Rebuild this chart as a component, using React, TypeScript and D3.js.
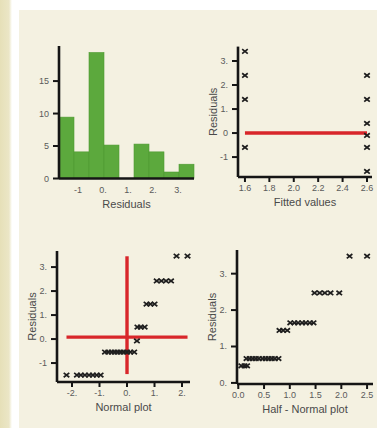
import React from "react";
import * as d3 from "d3";

// histogram of residuals
const histEdges = [-1.76, -1.16, -0.56, 0.04, 0.64, 1.24, 1.84, 2.44, 3.04, 3.64];
const histCounts = [9.45, 4.1, 19.4, 5.15, 0, 5.3, 4.1, 1.0, 2.2];
const histYTicks = [0, 5, 10, 15];
const histYLabels = ["0", "5", "10", "15"];
const histXTicks = [-1, 0, 1, 2, 3];
const histXLabels = ["-1", "0.", "1.", "2.", "3."];

// residuals vs fitted
const fittedX = [1.6, 1.6, 1.6, 1.6, 2.6, 2.6, 2.6, 2.6, 2.6, 2.6];
const fittedY = [3.4, 2.4, 1.4, -0.6, 2.4, 1.4, 0.4, -0.1, -0.6, -1.6];
const fittedXTicks = [1.6, 1.8, 2.0, 2.2, 2.4, 2.6];
const fittedXLabels = ["1.6", "1.8", "2.0", "2.2", "2.4", "2.6"];
const fittedYTicks = [-1, 0, 1, 2, 3];
const fittedYLabels = ["-1", "0", "1.", "2.", "3."];

// normal plot
const normalQ = [
  -2.2, -1.82, -1.68, -1.53, -1.38, -1.24, -1.1, -0.96,
  -0.8, -0.68, -0.56, -0.45, -0.34, -0.23, -0.12, 0.0, 0.12, 0.26,
  0.36,
  0.38, 0.5, 0.64,
  0.71, 0.85, 1.0,
  1.08, 1.25, 1.42, 1.6,
  1.8, 2.2,
];
const normalR = [
  -1.5, -1.5, -1.5, -1.5, -1.5, -1.5, -1.5, -1.5,
  -0.54, -0.54, -0.54, -0.54, -0.54, -0.54, -0.54, -0.54, -0.54, -0.54,
  -0.08,
  0.5, 0.5, 0.5,
  1.46, 1.46, 1.46,
  2.42, 2.42, 2.42, 2.42,
  3.46, 3.46,
];
const normalXTicks = [-2, -1, 0, 1, 2];
const normalXLabels = ["-2.", "-1.", "0.", "1.", "2."];
const normalYTicks = [-1, 0, 1, 2, 3];
const normalYLabels = ["-1", "0.", "1.", "2.", "3."];
const normalRefH = { x0: -2.2, x1: 2.2, y: 0.08 };
const normalRefV = { x: 0, y0: -1.46, y1: 3.45 };

// half-normal plot
const halfQ = [
  0.06, 0.12, 0.17,
  0.16, 0.22, 0.28, 0.34, 0.4, 0.47, 0.53, 0.59, 0.65, 0.71, 0.78,
  0.8, 0.87, 0.95,
  1.01, 1.09, 1.16, 1.24, 1.31, 1.39, 1.46,
  1.48, 1.58, 1.68, 1.79, 1.96,
  2.16, 2.5,
];
const halfR = [
  0.47, 0.47, 0.47,
  0.67, 0.67, 0.67, 0.67, 0.67, 0.67, 0.67, 0.67, 0.67, 0.67, 0.67,
  1.44, 1.44, 1.44,
  1.65, 1.65, 1.65, 1.65, 1.65, 1.65, 1.65,
  2.47, 2.47, 2.47, 2.47, 2.47,
  3.48, 3.48,
];
const halfXTicks = [0, 0.5, 1.0, 1.5, 2.0, 2.5];
const halfXLabels = ["0.0", "0.5", "1.0", "1.5", "2.0", "2.5"];
const halfYTicks = [0, 1, 2, 3];
const halfYLabels = ["0.", "1.", "2.", "3."];

const FONT = "'Liberation Sans', Arial, sans-serif";
const INK = "#151515";
const TICK_TXT = "#5a5a5a";
const TITLE_TXT = "#4a4a4a";
const RED = "#d8262a";

function Cross({ x, y }: { x: number; y: number }) {
  return (
    <path
      d={`M${x - 2.8},${y - 2.2}L${x + 2.8},${y + 2.2}M${x - 2.8},${y + 2.2}L${x + 2.8},${y - 2.2}`}
      stroke="#1e1e1e"
      strokeWidth={1.7}
      fill="none"
    />
  );
}

function Axes({
  x, y, xTicks, xLabels, yTicks, yLabels, xTitle, yTitle, yTitleX, xTickMarks = true,
}: any) {
  const [x0, x1] = x.range();
  const [y0, y1] = y.range();
  return (
    <g fontFamily={FONT}>
      <line x1={x0} x2={x0} y1={y1} y2={y0} stroke={INK} strokeWidth={2.6} />
      <line x1={x0} x2={x1} y1={y0} y2={y0} stroke={INK} strokeWidth={2.6} />
      {yTicks.map((t: number, i: number) => (
        <g key={"y" + i}>
          <line x1={x0 - 6} x2={x0} y1={y(t)} y2={y(t)} stroke={INK} strokeWidth={2} />
          <text x={x0 - 10} y={y(t)} textAnchor="end" dominantBaseline="central" fontSize={9} fill={TICK_TXT}>
            {yLabels[i]}
          </text>
        </g>
      ))}
      {xTicks.map((t: number, i: number) => (
        <g key={"x" + i}>
          {xTickMarks && (
            <line x1={x(t)} x2={x(t)} y1={y0} y2={y0 + 5} stroke={INK} strokeWidth={2} />
          )}
          <text x={x(t)} y={y0 + 11} textAnchor="middle" dominantBaseline="central" fontSize={9} fill={TICK_TXT}>
            {xLabels[i]}
          </text>
        </g>
      ))}
      <text x={(x0 + x1) / 2} y={y0 + 25} textAnchor="middle" dominantBaseline="central" fontSize={11} fill={TITLE_TXT}>
        {xTitle}
      </text>
      {yTitle && (
        <text
          transform={`translate(${yTitleX},${(y0 + y1) / 2}) rotate(-90)`}
          textAnchor="middle"
          dominantBaseline="central"
          fontSize={11}
          fill={TITLE_TXT}
        >
          {yTitle}
        </text>
      )}
    </g>
  );
}

export default function App() {
  // histogram
  const hx = d3.scaleLinear().domain([histEdges[0], histEdges[histEdges.length - 1]]).range([59, 194]);
  const hy = d3.scaleLinear().domain([0, 20.4]).range([178.5, 46]);

  // fitted
  const fx = d3.scaleLinear().domain([1.543, 2.641]).range([238, 372]);
  const fy = d3.scaleLinear().domain([-1.83, 3.6]).range([177, 46.6]);

  // normal
  const nx = d3.scaleLinear().domain([-2.545, 2.29]).range([57, 190]);
  const ny = d3.scaleLinear().domain([-1.79, 3.67]).range([382, 251]);

  // half-normal
  const qx = d3.scaleLinear().domain([-0.025, 2.615]).range([237, 373]);
  const qy = d3.scaleLinear().domain([-0.03, 3.65]).range([384, 250]);

  return (
    <svg width={377} height={428} style={{ position: "absolute", left: 0, top: 0 }}>
      <defs>
        <linearGradient id="strip" x1="0" x2="1" y1="0" y2="0">
          <stop offset="0" stopColor="#e6e0b8" />
          <stop offset="0.75" stopColor="#ebe6c6" />
          <stop offset="1" stopColor="#ffffff" />
        </linearGradient>
      </defs>
      <rect width={377} height={428} fill="#ffffff" />
      <rect x={0} y={0} width={12} height={428} fill="url(#strip)" />
      <rect x={19} y={10} width={358} height={418} fill="#f4f1e1" />

      {/* histogram */}
      <g>
        {histCounts.map((c, i) => (
          <rect
            key={i}
            x={hx(histEdges[i])}
            y={hy(c)}
            width={hx(histEdges[i + 1]) - hx(histEdges[i])}
            height={hy(0) - hy(c)}
            fill="#5ca93d"
            stroke="#4f9a33"
            strokeWidth={0.6}
          />
        ))}
        <Axes
          x={hx}
          y={hy}
          xTicks={histXTicks}
          xLabels={histXLabels}
          yTicks={histYTicks}
          yLabels={histYLabels}
          xTitle="Residuals"
          xTickMarks={false}
        />
      </g>

      {/* residuals vs fitted */}
      <g>
        <line x1={fx(1.6)} x2={fx(2.6)} y1={fy(0)} y2={fy(0)} stroke={RED} strokeWidth={3.6} />
        <Axes
          x={fx}
          y={fy}
          xTicks={fittedXTicks}
          xLabels={fittedXLabels}
          yTicks={fittedYTicks}
          yLabels={fittedYLabels}
          xTitle="Fitted values"
          yTitle="Residuals"
          yTitleX={213}
        />
        {fittedX.map((v, i) => (
          <Cross key={i} x={fx(v)} y={fy(fittedY[i])} />
        ))}
      </g>

      {/* normal plot */}
      <g>
        <line x1={nx(normalRefH.x0)} x2={nx(normalRefH.x1)} y1={ny(normalRefH.y)} y2={ny(normalRefH.y)} stroke={RED} strokeWidth={3.4} />
        <line x1={nx(normalRefV.x)} x2={nx(normalRefV.x)} y1={ny(normalRefV.y0)} y2={ny(normalRefV.y1)} stroke={RED} strokeWidth={3.4} />
        <Axes
          x={nx}
          y={ny}
          xTicks={normalXTicks}
          xLabels={normalXLabels}
          yTicks={normalYTicks}
          yLabels={normalYLabels}
          xTitle="Normal plot"
          yTitle="Residuals"
          yTitleX={32}
        />
        {normalQ.map((v, i) => (
          <Cross key={i} x={nx(v)} y={ny(normalR[i])} />
        ))}
      </g>

      {/* half-normal plot */}
      <g>
        <Axes
          x={qx}
          y={qy}
          xTicks={halfXTicks}
          xLabels={halfXLabels}
          yTicks={halfYTicks}
          yLabels={halfYLabels}
          xTitle="Half - Normal plot"
          yTitle="Residuals"
          yTitleX={212}
        />
        {halfQ.map((v, i) => (
          <Cross key={i} x={qx(v)} y={qy(halfR[i])} />
        ))}
      </g>
    </svg>
  );
}
